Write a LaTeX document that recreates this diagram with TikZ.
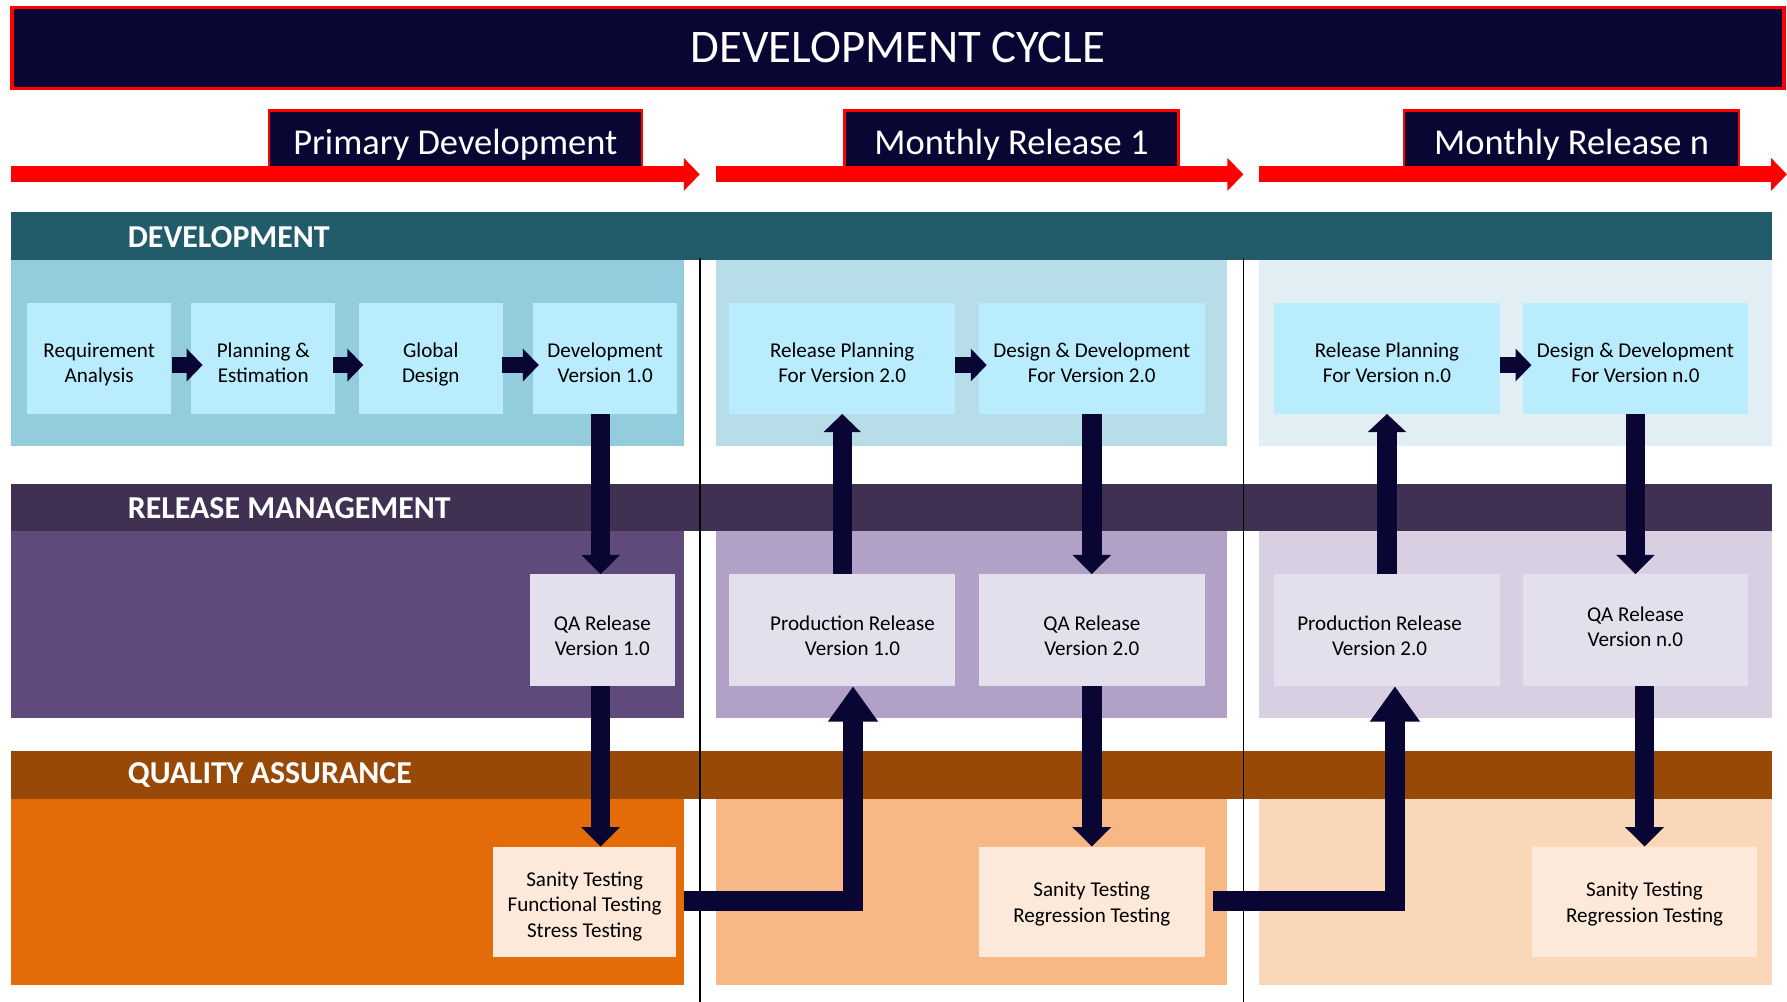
\documentclass[tikz,border=0pt]{standalone}
\usepackage{fontspec}
\setmainfont{Carlito}
\usetikzlibrary{arrows.meta}
\definecolor{navy}{HTML}{0A0634}
\definecolor{devhead}{HTML}{225B6A}
\definecolor{devA}{HTML}{93CDDD}
\definecolor{devB}{HTML}{B7DEE8}
\definecolor{devC}{HTML}{E1EFF4}
\definecolor{devbox}{HTML}{B9ECFD}
\definecolor{rmhead}{HTML}{403152}
\definecolor{rmA}{HTML}{604A7B}
\definecolor{rmB}{HTML}{B2A1C7}
\definecolor{rmC}{HTML}{D8CFE3}
\definecolor{rmbox}{HTML}{E4DFEC}
\definecolor{qahead}{HTML}{984807}
\definecolor{qaA}{HTML}{E36C09}
\definecolor{qaB}{HTML}{F8B886}
\definecolor{qaC}{HTML}{FAD7B8}
\definecolor{qabox}{HTML}{FDE9D9}
\tikzset{
  boxtext/.style={font=\fontsize{18.5}{22}\selectfont, text=black, align=center, inner sep=0pt, minimum height=97pt},
  devnode/.style={boxtext, fill=devbox, text height=50pt, text depth=8pt},
  rmnode/.style={boxtext, fill=rmbox, minimum height=98pt, text height=50pt, text depth=6pt},
  qanode/.style={boxtext, fill=qabox, text height=40pt, text depth=5pt},
  headtext/.style={font=\fontsize{28}{30}\selectfont\bfseries, text=white, anchor=west, inner sep=0pt},
  tabnode/.style={draw=red, line width=2pt, fill=navy, text=white, font=\fontsize{32}{34}\selectfont, inner sep=0pt,
                  minimum height=54pt, text height=28pt, text depth=5pt},
  conn/.style={draw=navy, line width=17pt, line join=miter, -{Triangle[length=17pt,width=33pt]}},
  connup/.style={draw=navy, line width=17pt, line join=miter, -{Triangle[length=31pt,width=42pt]}},
  smallconn/.style={draw=navy, line width=14pt, -{Triangle[length=14pt,width=28pt]}},
  redarrow/.style={draw=red, line width=14pt, -{Triangle[length=14pt,width=28pt]}},
  divider/.style={draw=black, line width=1.5pt}
}
\begin{document}
\begin{tikzpicture}[x=1pt,y=-1pt]
\useasboundingbox (0,0) rectangle (1568,879);

% title
\node[draw=red, line width=3pt, fill=navy, text=white, minimum width=1555pt, minimum height=71pt, inner sep=0pt,
      font=\fontsize{41}{44}\selectfont] (title) at (788,42) {DEVELOPMENT CYCLE};

% phase tabs
\node[tabnode, minimum width=327pt] (tab1) at (399.5,124) {Primary Development};
\node[tabnode, minimum width=293pt] (tab2) at (887.5,124) {Monthly Release 1};
\node[tabnode, minimum width=294pt] (tab3) at (1379,124) {Monthly Release n};

% red timeline arrows
\coordinate (r1s) at (10,153); \coordinate (r1e) at (614,153);
\coordinate (r2s) at (628,153); \coordinate (r2e) at (1091,153);
\coordinate (r3s) at (1105,153); \coordinate (r3e) at (1568,153);
\draw[redarrow] (r1s) -- (r1e);
\draw[redarrow] (r2s) -- (r2e);
\draw[redarrow] (r3s) -- (r3e);

% swimlane headers
\fill[devhead] (10,186) rectangle (1555,228);
\fill[rmhead] (10,425) rectangle (1555,466);
\fill[qahead] (10,659) rectangle (1555,701);
\node[headtext] (hdev) at (112,208) {DEVELOPMENT};
\node[headtext] (hrm) at (112,446) {RELEASE MANAGEMENT};
\node[headtext] (hqa) at (112,680) {QUALITY ASSURANCE};

% panels
\fill[devA] (10,228) rectangle (600,391);
\fill[devB] (628,228) rectangle (1077,391);
\fill[devC] (1105,228) rectangle (1555,391);
\fill[rmA] (10,466) rectangle (600,630);
\fill[rmB] (628,466) rectangle (1077,630);
\fill[rmC] (1105,466) rectangle (1555,630);
\fill[qaA] (10,701) rectangle (600,864);
\fill[qaB] (628,701) rectangle (1077,864);
\fill[qaC] (1105,701) rectangle (1555,864);

% dividers
\coordinate (d1t) at (614,226); \coordinate (d1b) at (614,879);
\coordinate (d2t) at (1091,226); \coordinate (d2b) at (1091,879);
\draw[divider] (d1t) -- (d1b);
\draw[divider] (d2t) -- (d2b);

% development boxes
\node[devnode, minimum width=126pt] (req) at (87,314.5) {Requirement\\Analysis};
\node[devnode, minimum width=126pt] (plan) at (231,314.5) {Planning \&\\Estimation};
\node[devnode, minimum width=126pt] (glob) at (378,314.5) {Global\\Design};
\node[devnode, minimum width=126pt] (dev1) at (531,314.5) {Development\\Version 1.0};
\node[devnode, minimum width=198pt] (rp2) at (739,314.5) {Release Planning\\For Version 2.0};
\node[devnode, minimum width=198pt] (dd2) at (958,314.5) {Design \& Development\\For Version 2.0};
\node[devnode, minimum width=198pt] (rpn) at (1217,314.5) {Release Planning\\For Version n.0};
\node[devnode, minimum width=198pt] (ddn) at (1435,314.5) {Design \& Development\\For Version n.0};

% release management boxes
\node[rmnode, minimum width=127pt] (qar1) at (528.5,553) {QA Release\\Version 1.0};
\node[rmnode, minimum width=198pt] (prod1) at (739,553) {\hspace*{18pt}Production Release\\\hspace*{18pt}Version 1.0};
\node[rmnode, minimum width=198pt] (qar2) at (958,553) {QA Release\\Version 2.0};
\node[rmnode, minimum width=198pt] (prod2) at (1217,553) {\hspace*{-13pt}Production Release\\\hspace*{-13pt}Version 2.0};
\node[rmnode, minimum width=198pt, text height=34pt, text depth=6pt] (qarn) at (1435,553) {QA Release\\Version n.0};

% QA boxes
\node[qanode, minimum width=160pt, font=\fontsize{18.5}{22.5}\selectfont, text height=67pt, text depth=5pt] (san1) at (513,791.5) {Sanity Testing\\Functional Testing\\Stress Testing};
\node[qanode, minimum width=198pt] (san2) at (958,791.5) {Sanity Testing\\Regression Testing};
\node[qanode, minimum width=198pt] (sann) at (1443,791.5) {Sanity Testing\\Regression Testing};

% small dev-row arrows
\draw[smallconn] ([xshift=1pt,yshift=-5.8pt]req.east) -- ([xshift=10pt,yshift=-5.8pt]plan.west);
\draw[smallconn] ([xshift=-2pt,yshift=-5.8pt]plan.east) -- ([xshift=4pt,yshift=-5.8pt]glob.west);
\draw[smallconn] ([xshift=-1pt,yshift=-5.8pt]glob.east) -- ([xshift=5pt,yshift=-5.8pt]dev1.west);
\draw[smallconn] ([yshift=-5.8pt]rp2.east) -- ([xshift=7pt,yshift=-5.8pt]dd2.west);
\draw[smallconn] ([yshift=-5.8pt]rpn.east) -- ([xshift=8pt,yshift=-5.8pt]ddn.west);

% vertical connectors
\draw[conn] ([xshift=-4pt]dev1.south) -- ([xshift=-4pt]dev1.south |- qar1.north);
\draw[conn] ([xshift=-1.5pt]qar1.south) -- ([xshift=-1.5pt]qar1.south |- san1.north);
\draw[conn, -{Triangle[length=16pt,width=32pt]}] (prod1.north) -- (rp2.south);
\draw[conn] (dd2.south) -- (qar2.north);
\draw[conn] (qar2.south) -- (san2.north);
\draw[conn, -{Triangle[length=16pt,width=33pt]}] (prod2.north) -- (rpn.south);
\draw[conn] (ddn.south) -- (qarn.north);
\draw[conn] (qarn.south -| sann.north) -- (sann.north);

% elbow connectors
\draw[connup] ([xshift=7pt,yshift=1pt]san1.east) -| ([xshift=9.5pt]prod1.south);
\draw[connup] ([xshift=7pt,yshift=1pt]san2.east) -| ([xshift=7pt]prod2.south);

\end{tikzpicture}
\end{document}
